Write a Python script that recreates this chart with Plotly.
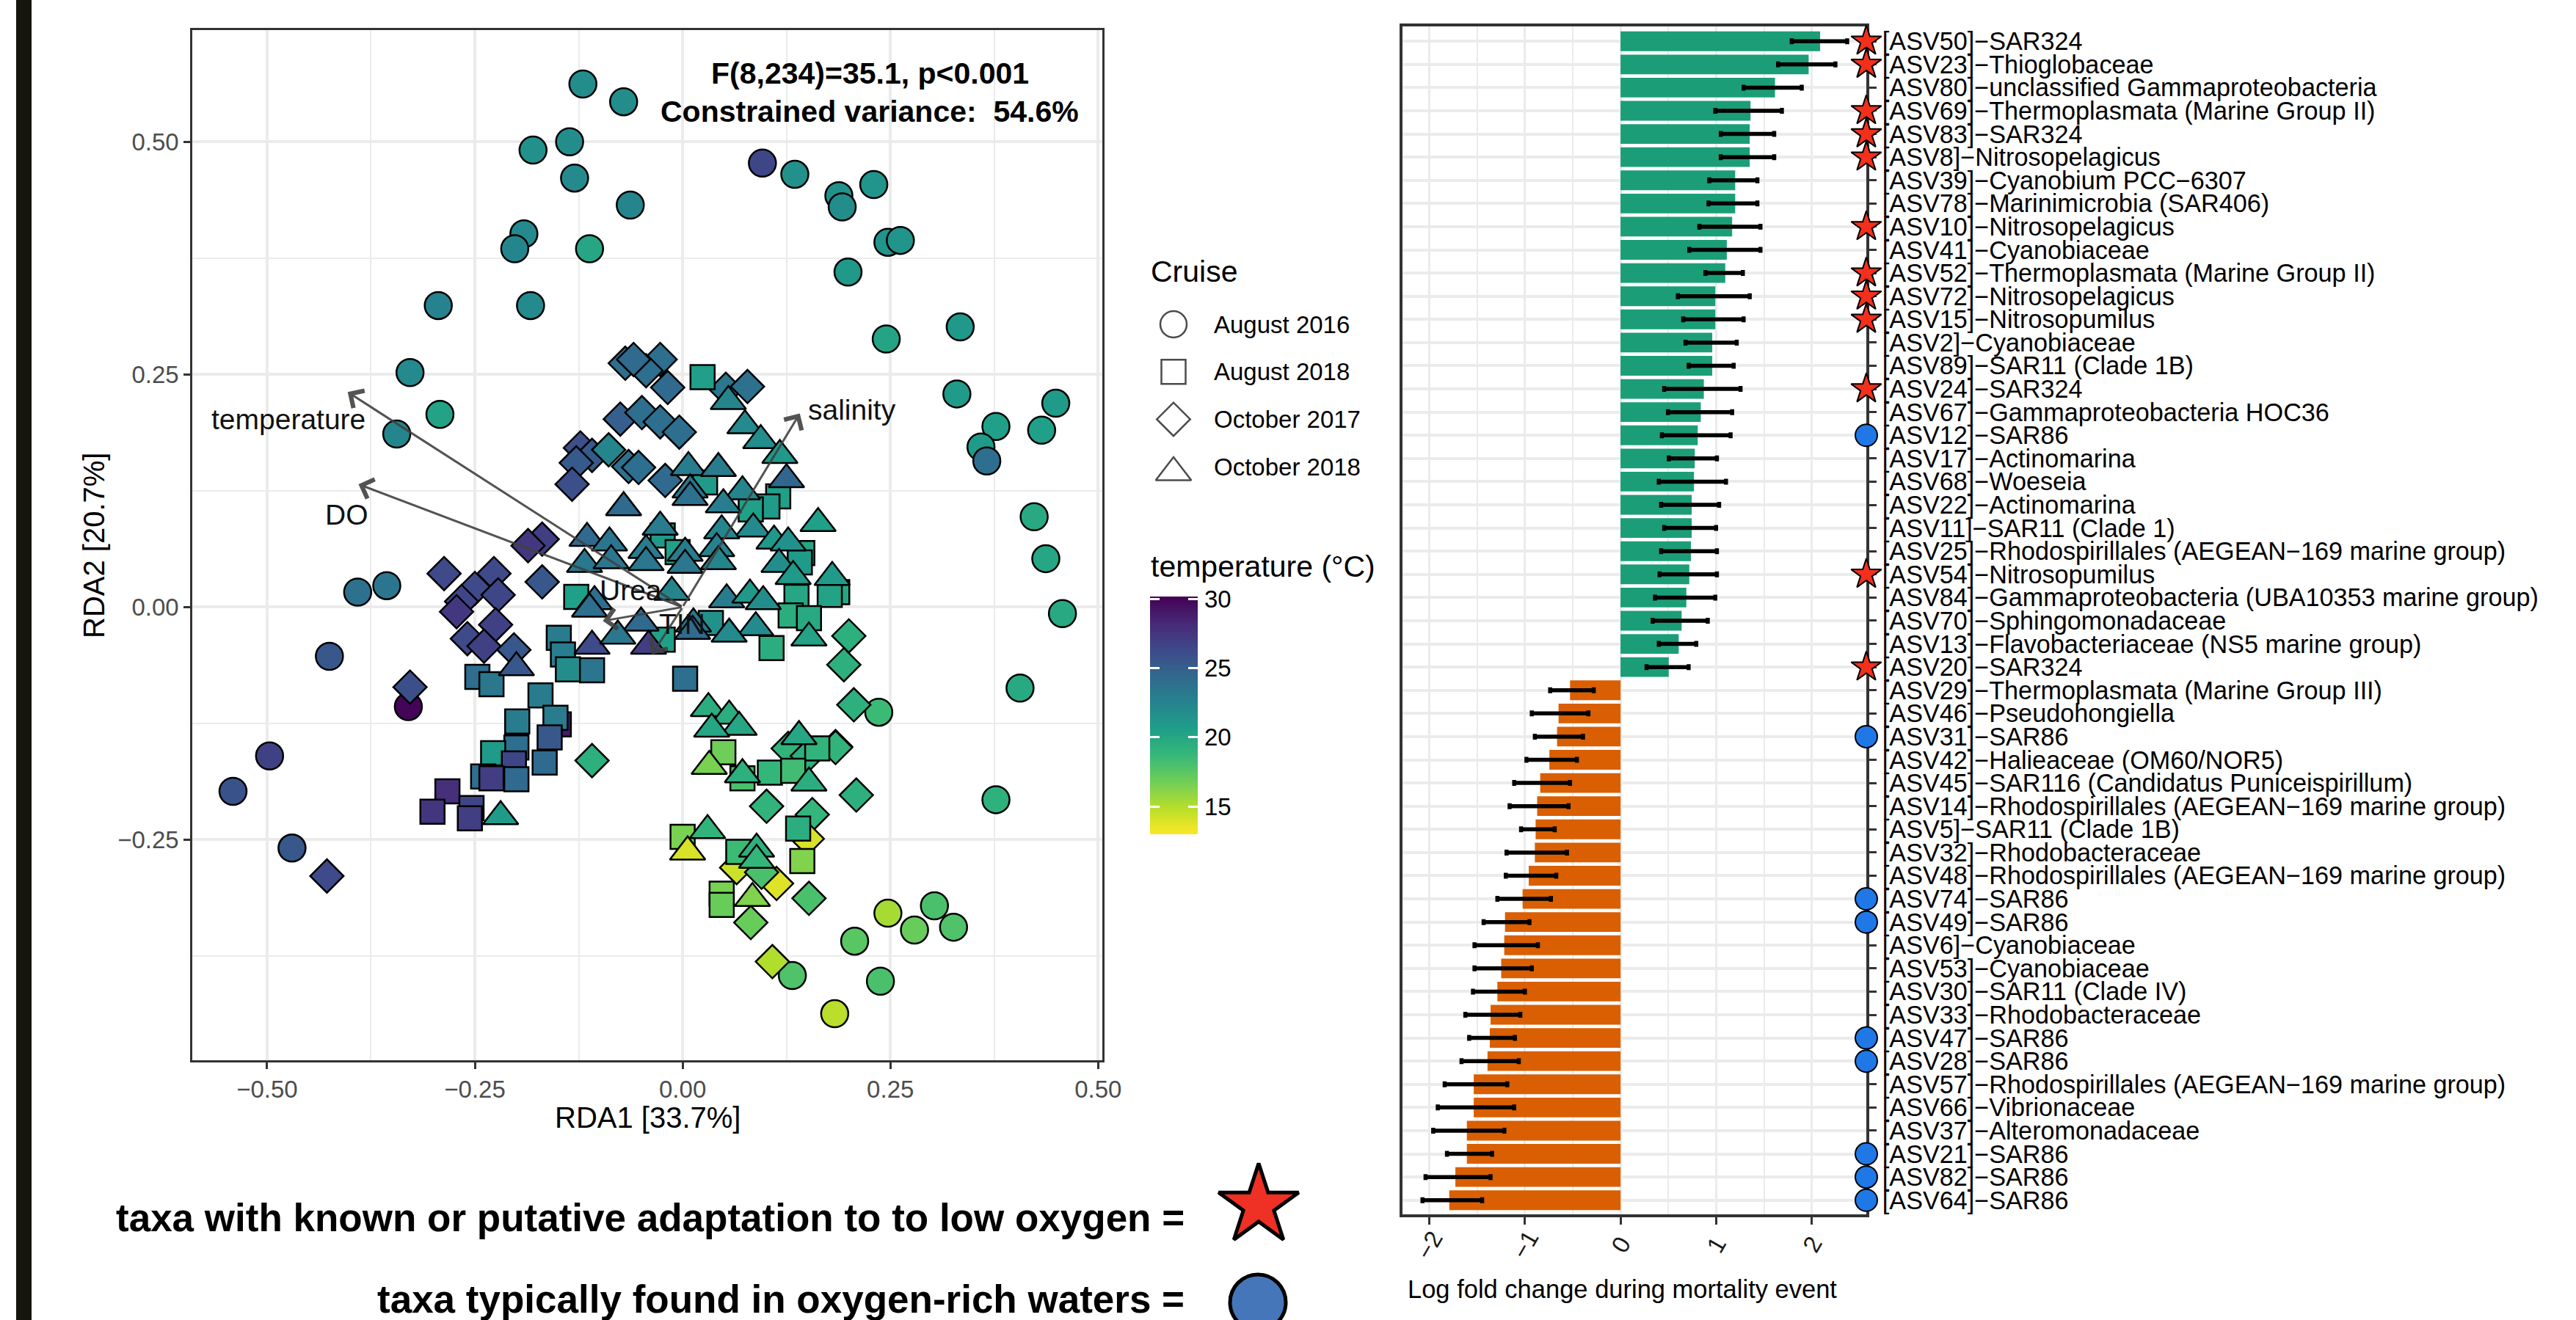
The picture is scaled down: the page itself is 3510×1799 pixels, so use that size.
import plotly.graph_objects as go

W, H = 3510, 1799
FONT = "Liberation Sans, Arial, Helvetica, sans-serif"

# ---------------- RDA scores (left panel) ----------------
cruise_names = ["August 2016", "August 2018", "October 2017", "October 2018"]
cruise_symbols = ["circle", "square", "diamond", "triangle-up"]
cruise_sizes = [37, 33, 35, 42]

aug16_rda1 = [-0.120, -0.071, -0.136, -0.180, -0.130, -0.063, 0.096, 0.135, 0.188, 0.192, 0.230, 0.247, 0.262, 0.199, -0.191, -0.202, -0.112, -0.294, -0.183, 0.245, 0.334, -0.328, -0.292, -0.344, 0.330, 0.449, 0.377, 0.432, 0.359, 0.366, 0.423, 0.437, 0.457, -0.391, -0.356, -0.425, -0.330, -0.497, -0.541, -0.470, 0.406, 0.236, 0.377, 0.247, 0.303, 0.279, 0.326, 0.207, 0.132, 0.238, 0.183]
aug16_rda2 = [0.562, 0.543, 0.500, 0.491, 0.461, 0.432, 0.477, 0.465, 0.442, 0.430, 0.454, 0.392, 0.394, 0.360, 0.401, 0.385, 0.385, 0.324, 0.324, 0.288, 0.301, 0.252, 0.207, 0.186, 0.229, 0.219, 0.194, 0.190, 0.172, 0.157, 0.097, 0.052, -0.007, 0.016, 0.023, -0.053, -0.107, -0.160, -0.198, -0.259, -0.087, -0.113, -0.207, -0.329, -0.321, -0.347, -0.344, -0.359, -0.396, -0.402, -0.437]
aug16_temp = [21.8, 21.8, 21.8, 21.5, 22.0, 22.3, 26.5, 21.5, 21.5, 21.8, 21.3, 21.3, 21.3, 21.0, 22.0, 22.3, 20.0, 22.5, 22.0, 20.2, 21.0, 22.0, 20.3, 22.3, 20.8, 20.8, 20.5, 20.5, 20.8, 24.0, 19.8, 20.0, 19.8, 23.8, 23.5, 25.5, 30.0, 26.8, 25.8, 25.5, 19.8, 18.5, 19.2, 15.3, 18.0, 17.0, 17.8, 17.5, 17.8, 18.0, 14.8]

aug18_rda1 = [0.024, 0.115, 0.102, 0.027, 0.082, -0.024, 0.144, -0.006, 0.141, 0.186, 0.177, 0.137, 0.130, 0.152, 0.034, 0.107, -0.024, 0.003, -0.128, -0.149, -0.144, -0.138, -0.109, -0.247, -0.230, -0.171, -0.199, -0.149, -0.153, -0.160, -0.200, -0.166, -0.228, -0.203, -0.240, -0.230, -0.200, -0.283, -0.301, -0.254, -0.256, 0.049, 0.072, 0.105, 0.162, 0.133, 0.000, 0.047, 0.047, 0.067, 0.144, 0.139]
aug18_rda2 = [0.247, 0.119, 0.108, 0.134, 0.105, 0.077, 0.058, 0.059, 0.048, 0.016, 0.013, 0.011, -0.009, -0.012, -0.017, -0.044, -0.035, -0.077, 0.011, -0.033, -0.051, -0.067, -0.068, -0.075, -0.083, -0.095, -0.123, -0.126, -0.119, -0.140, -0.151, -0.167, -0.157, -0.168, -0.182, -0.184, -0.185, -0.198, -0.220, -0.216, -0.227, -0.156, -0.184, -0.178, -0.152, -0.176, -0.247, -0.308, -0.320, -0.263, -0.273, -0.238]
aug18_temp = [20.5, 20.5, 20.8, 20.8, 20.5, 21.0, 20.0, 20.5, 20.8, 20.0, 20.3, 20.0, 19.5, 19.8, 21.5, 19.5, 20.5, 24.0, 20.5, 23.0, 22.8, 21.8, 23.5, 24.0, 23.3, 23.0, 23.0, 29.0, 23.0, 25.5, 24.0, 24.3, 20.8, 26.5, 24.0, 27.0, 24.3, 27.8, 27.5, 26.5, 27.0, 16.8, 18.0, 18.8, 19.0, 18.3, 16.5, 16.5, 17.0, 18.5, 16.3, 19.5]

oct17_rda1 = [-0.069, -0.027, -0.044, -0.059, -0.018, 0.052, 0.078, -0.075, -0.049, -0.027, -0.004, -0.123, -0.109, -0.089, -0.128, -0.133, -0.065, -0.053, -0.021, -0.169, -0.186, -0.287, -0.227, -0.250, -0.222, -0.266, -0.272, -0.169, -0.225, -0.259, -0.239, -0.203, -0.328, -0.428, -0.109, 0.200, 0.194, 0.206, 0.184, 0.209, 0.101, 0.156, 0.150, 0.065, 0.113, 0.152, 0.082, 0.108, 0.095, 0.127, 0.150, 0.184]
oct17_rda2 = [0.262, 0.266, 0.254, 0.266, 0.236, 0.234, 0.237, 0.202, 0.209, 0.199, 0.188, 0.171, 0.163, 0.169, 0.155, 0.132, 0.151, 0.150, 0.136, 0.073, 0.066, 0.036, 0.036, 0.020, 0.013, 0.006, -0.005, 0.027, -0.019, -0.034, -0.042, -0.046, -0.086, -0.289, -0.165, -0.031, -0.062, -0.105, -0.150, -0.202, -0.214, -0.223, -0.249, -0.280, -0.297, -0.313, -0.339, -0.381, -0.285, -0.152, -0.160, -0.151]
oct17_temp = [24.0, 24.0, 24.0, 24.3, 24.3, 23.3, 23.8, 25.0, 24.0, 24.0, 24.0, 26.0, 25.3, 22.3, 25.3, 26.0, 23.8, 24.0, 24.3, 27.0, 27.3, 26.3, 26.3, 26.3, 26.5, 26.5, 27.3, 25.5, 26.8, 26.3, 26.8, 25.5, 26.0, 26.3, 19.3, 19.3, 19.3, 19.3, 19.0, 19.3, 19.0, 18.8, 14.0, 14.3, 13.8, 18.0, 17.0, 15.0, 18.0, 19.0, 19.3, 19.0]

oct18_rda1 = [0.055, 0.075, 0.094, 0.117, 0.125, -0.071, -0.115, -0.088, 0.007, 0.043, 0.009, 0.009, 0.072, 0.049, 0.163, -0.027, 0.085, 0.047, 0.110, 0.127, -0.044, 0.003, 0.041, -0.044, 0.003, 0.043, 0.116, 0.133, 0.180, -0.013, 0.053, 0.081, 0.097, -0.050, 0.013, 0.012, 0.088, 0.056, 0.152, -0.041, -0.118, -0.086, -0.106, -0.112, -0.109, -0.078, -0.200, -0.219, 0.031, 0.056, 0.068, 0.035, 0.032, 0.072, 0.140, 0.152, 0.030, 0.006, 0.089, 0.084, 0.089]
oct18_rda2 = [0.221, 0.195, 0.179, 0.163, 0.137, 0.107, 0.074, 0.069, 0.150, 0.149, 0.126, 0.118, 0.124, 0.110, 0.090, 0.086, 0.084, 0.082, 0.071, 0.069, 0.061, 0.058, 0.063, 0.048, 0.045, 0.049, 0.046, 0.033, 0.032, 0.016, 0.008, 0.013, 0.006, -0.017, -0.018, -0.026, -0.022, -0.029, -0.033, -0.042, 0.046, 0.050, 0.006, -0.002, -0.042, -0.031, -0.065, -0.225, -0.109, -0.117, -0.129, -0.131, -0.171, -0.180, -0.139, -0.189, -0.240, -0.263, -0.260, -0.313, -0.272]
oct18_temp = [22.3, 22.0, 21.8, 21.0, 24.5, 24.3, 24.3, 23.5, 23.0, 23.0, 23.3, 23.8, 22.3, 22.8, 20.5, 23.0, 22.0, 22.3, 21.0, 21.5, 23.0, 23.0, 22.5, 23.3, 23.3, 22.3, 21.8, 21.0, 20.8, 22.3, 23.0, 21.0, 21.8, 24.3, 23.3, 24.3, 22.0, 22.0, 20.3, 27.0, 23.3, 23.5, 24.0, 24.0, 26.3, 23.3, 25.5, 20.8, 19.5, 19.5, 20.0, 20.0, 16.5, 19.3, 20.0, 19.5, 19.0, 14.0, 19.3, 16.3, 18.8]

# biplot arrows (environmental constraints)
env_names = ["temperature", "DO", "salinity", "Urea", "TIN"]
env_rda1 = [-0.403, -0.390, 0.141, -0.096, -0.037]
env_rda2 = [0.231, 0.132, 0.208, -0.015, -0.051]
env_lab_rda1 = [-0.474, -0.404, 0.204, -0.062, -0.001]
env_lab_rda2 = [0.202, 0.099, 0.212, 0.018, -0.018]

stat_lines = ["F(8,234)=35.1, p&lt;0.001", "Constrained variance:  54.6%"]

temp_min, temp_max = 12.99, 30.16
temp_ticks = [15, 20, 25, 30]

# ---------------- Log fold change (right panel) ----------------
asv_labels = [
    "[ASV50]\u2212SAR324", "[ASV23]\u2212Thioglobaceae", "[ASV80]\u2212unclassified Gammaproteobacteria",
    "[ASV69]\u2212Thermoplasmata (Marine Group II)", "[ASV83]\u2212SAR324", "[ASV8]\u2212Nitrosopelagicus",
    "[ASV39]\u2212Cyanobium PCC\u22126307", "[ASV78]\u2212Marinimicrobia (SAR406)", "[ASV10]\u2212Nitrosopelagicus",
    "[ASV41]\u2212Cyanobiaceae", "[ASV52]\u2212Thermoplasmata (Marine Group II)", "[ASV72]\u2212Nitrosopelagicus",
    "[ASV15]\u2212Nitrosopumilus", "[ASV2]\u2212Cyanobiaceae", "[ASV89]\u2212SAR11 (Clade 1B)",
    "[ASV24]\u2212SAR324", "[ASV67]\u2212Gammaproteobacteria HOC36", "[ASV12]\u2212SAR86",
    "[ASV17]\u2212Actinomarina", "[ASV68]\u2212Woeseia", "[ASV22]\u2212Actinomarina",
    "[ASV11]\u2212SAR11 (Clade 1)", "[ASV25]\u2212Rhodospirillales (AEGEAN\u2212169 marine group)", "[ASV54]\u2212Nitrosopumilus",
    "[ASV84]\u2212Gammaproteobacteria (UBA10353 marine group)", "[ASV70]\u2212Sphingomonadaceae",
    "[ASV13]\u2212Flavobacteriaceae (NS5 marine group)", "[ASV20]\u2212SAR324",
    "[ASV29]\u2212Thermoplasmata (Marine Group III)", "[ASV46]\u2212Pseudohongiella", "[ASV31]\u2212SAR86",
    "[ASV42]\u2212Halieaceae (OM60/NOR5)", "[ASV45]\u2212SAR116 (Candidatus Puniceispirillum)",
    "[ASV14]\u2212Rhodospirillales (AEGEAN\u2212169 marine group)", "[ASV5]\u2212SAR11 (Clade 1B)",
    "[ASV32]\u2212Rhodobacteraceae", "[ASV48]\u2212Rhodospirillales (AEGEAN\u2212169 marine group)",
    "[ASV74]\u2212SAR86", "[ASV49]\u2212SAR86", "[ASV6]\u2212Cyanobiaceae", "[ASV53]\u2212Cyanobiaceae",
    "[ASV30]\u2212SAR11 (Clade IV)", "[ASV33]\u2212Rhodobacteraceae", "[ASV47]\u2212SAR86", "[ASV28]\u2212SAR86",
    "[ASV57]\u2212Rhodospirillales (AEGEAN\u2212169 marine group)", "[ASV66]\u2212Vibrionaceae",
    "[ASV37]\u2212Alteromonadaceae", "[ASV21]\u2212SAR86", "[ASV82]\u2212SAR86", "[ASV64]\u2212SAR86",
]
lfc = [2.087, 1.967, 1.615, 1.359, 1.351, 1.351, 1.199, 1.199, 1.167, 1.111, 1.095, 0.991, 0.991, 0.959, 0.959, 0.871, 0.839, 0.807, 0.776, 0.768, 0.744, 0.744, 0.736, 0.719, 0.688, 0.639, 0.608, 0.504,
       -0.528, -0.648, -0.664, -0.744, -0.84, -0.872, -0.888, -0.896, -0.96, -1.024, -1.208, -1.216, -1.248, -1.288, -1.359, -1.367, -1.391, -1.535, -1.535, -1.607, -1.607, -1.727, -1.791]
lfc_lo = [1.79, 1.647, 1.287, 0.991, 1.048, 1.048, 0.928, 0.92, 0.824, 0.719, 0.888, 0.599, 0.655, 0.679, 0.712, 0.456, 0.496, 0.432, 0.504, 0.40, 0.424, 0.456, 0.424, 0.408, 0.36, 0.336, 0.40, 0.272,
          -0.736, -0.928, -0.896, -0.984, -1.112, -1.16, -1.04, -1.192, -1.2, -1.288, -1.432, -1.527, -1.527, -1.543, -1.623, -1.583, -1.663, -1.839, -1.911, -1.959, -1.815, -2.039, -2.071]
lfc_hi = [2.37, 2.247, 1.895, 1.687, 1.607, 1.607, 1.431, 1.431, 1.463, 1.463, 1.279, 1.351, 1.287, 1.215, 1.183, 1.255, 1.167, 1.151, 1.008, 1.103, 1.031, 0.999, 1.008, 1.008, 0.991, 0.912, 0.792, 0.712,
          -0.28, -0.336, -0.392, -0.456, -0.528, -0.544, -0.688, -0.56, -0.672, -0.728, -0.952, -0.864, -0.928, -1.0, -1.048, -1.104, -1.064, -1.184, -1.112, -1.215, -1.343, -1.359, -1.447]
# oxygen group: "low" = known/putative low-oxygen adaptation, "rich" = oxygen-rich waters
oxygen_group = ["low", "low", "", "low", "low", "low", "", "", "low", "", "low", "low", "low", "", "", "low", "", "rich",
                "", "", "", "", "", "low", "", "", "", "low",
                "", "", "rich", "", "", "", "", "", "", "rich", "rich", "", "", "", "", "rich", "rich", "", "", "", "rich", "rich", "rich"]
lfc_ticks = [-2, -1, 0, 1, 2]

key_texts = ["taxa with known or putative adaptation to to low oxygen =",
             "taxa typically found in oxygen-rich waters ="]

# ---------------- layout geometry ----------------
def px(x):
    return x / W

def py(y):
    return 1 - y / H

L_X = [px(262), px(1502)]
L_Y = [py(1445), py(41)]
R_X = [px(1911), px(2543)]
R_Y = [py(1655), py(36)]
R_XMAX = 2.57

GREEN, ORANGE = "#1B9E77", "#D95F02"

fig = go.Figure()

rda_sets = [(aug16_rda1, aug16_rda2, aug16_temp), (aug18_rda1, aug18_rda2, aug18_temp),
            (oct17_rda1, oct17_rda2, oct17_temp), (oct18_rda1, oct18_rda2, oct18_temp)]
draw_order = [0, 2, 1, 3]
for k in draw_order:
    xs, ys, ts = rda_sets[k]
    fig.add_trace(go.Scatter(
        x=xs, y=ys, mode="markers", name=cruise_names[k], showlegend=False,
        xaxis="x", yaxis="y",
        marker=dict(symbol=cruise_symbols[k], size=cruise_sizes[k], color=ts, coloraxis="coloraxis",
                    line=dict(color="black", width=2.5), opacity=1),
    ))

# colour bar drawn as a heatmap strip sharing the colour axis
n_cb = 240
cb_vals = [temp_min + (temp_max - temp_min) * i / (n_cb - 1) for i in range(n_cb)]
fig.add_trace(go.Heatmap(z=[[v] for v in cb_vals], x=[0], y=cb_vals, coloraxis="coloraxis",
                         xaxis="x4", yaxis="y4", showscale=False, hoverinfo="skip"))

# bars
bar_colors = [GREEN if v > 0 else ORANGE for v in lfc]
rows = list(range(len(asv_labels)))
fig.add_trace(go.Bar(
    x=lfc, y=rows, orientation="h", xaxis="x2", yaxis="y2", width=0.85,
    marker=dict(color=bar_colors, line=dict(width=0)), showlegend=False,
    error_x=dict(type="data", symmetric=False,
                 array=[h - v for h, v in zip(lfc_hi, lfc)],
                 arrayminus=[v - l for v, l in zip(lfc, lfc_lo)],
                 color="black", thickness=5.5, width=4),
))
low_rows = [i for i, g in enumerate(oxygen_group) if g == "low"]
rich_rows = [i for i, g in enumerate(oxygen_group) if g == "rich"]
fig.add_trace(go.Scatter(
    x=[R_XMAX] * len(rich_rows), y=rich_rows, mode="markers", xaxis="x2", yaxis="y2", cliponaxis=False,
    marker=dict(symbol="circle", size=30, color="#1F78E6", line=dict(color="black", width=2)), showlegend=False))
fig.add_trace(go.Scatter(
    x=[R_XMAX] * len(low_rows), y=low_rows, mode="markers", xaxis="x2", yaxis="y2", cliponaxis=False,
    marker=dict(symbol="star", size=31, color="#F2301B", line=dict(color="black", width=2)), showlegend=False))

# overlay (pixel) axis for legend keys
leg_sym_x = 1599
leg_y0, leg_dy = 442, 64.7
tri_shift = [0, 0, 0, 8]
fig.add_trace(go.Scatter(
    x=[leg_sym_x] * 4, y=[leg_y0 + i * leg_dy + tri_shift[i] for i in range(4)], mode="markers",
    xaxis="x3", yaxis="y3", cliponaxis=False, showlegend=False,
    marker=dict(symbol=cruise_symbols, size=[36, 33, 35, 42], color="white", line=dict(color="black", width=2.5))))
fig.add_trace(go.Scatter(
    x=[1715], y=[1643], mode="markers", xaxis="x3", yaxis="y3", cliponaxis=False, showlegend=False,
    marker=dict(symbol="star", size=82, color="#EE3124", line=dict(color="black", width=5))))
fig.add_trace(go.Scatter(
    x=[1714], y=[1775], mode="markers", xaxis="x3", yaxis="y3", cliponaxis=False, showlegend=False,
    marker=dict(symbol="circle", size=76, color="#4676BA", line=dict(color="black", width=5))))

ann = []

def paper_text(x, y, text, size, xanchor="center", yanchor="middle", bold=False, angle=0, color="black"):
    ann.append(dict(x=px(x), y=py(y), xref="paper", yref="paper",
                    text=("<b>%s</b>" % text) if bold else text, showarrow=False,
                    xanchor=xanchor, yanchor=yanchor, textangle=angle,
                    font=dict(size=size, color=color, family=FONT)))

# arrows
for n, x, y, lx, ly in zip(env_names, env_rda1, env_rda2, env_lab_rda1, env_lab_rda2):
    ann.append(dict(x=x, y=y, ax=0, ay=0, xref="x", yref="y", axref="x", ayref="y", text="",
                    showarrow=True, arrowhead=4, arrowsize=1.8, arrowwidth=3,
                    arrowcolor="rgba(65,65,65,0.9)"))
    ann.append(dict(x=lx, y=ly, xref="x", yref="y", text=n, showarrow=False,
                    xanchor="center", yanchor="middle",
                    font=dict(size=39, color="#111111", family=FONT)))
# stats text
paper_text(1185, 100, stat_lines[0], 41, bold=True)
paper_text(1185, 152, stat_lines[1], 41, bold=True)
# axis titles left panel
paper_text(882, 1523, "RDA1 [33.7%]", 40)
paper_text(128, 743, "RDA2 [20.7%]", 40, angle=-90)
# legend
paper_text(1566, 370, "Cruise", 41, xanchor="left")
for i, nme in enumerate(cruise_names):
    paper_text(1652, leg_y0 + i * leg_dy, nme, 33, xanchor="left")
paper_text(1566, 772, "temperature (°C)", 41, xanchor="left")
# right panel x tick labels and title
for t in lfc_ticks:
    lab = ("\u2212%d" % abs(t)) if t < 0 else "%d" % t
    ann.append(dict(x=t, y=py(1696), xref="x2", yref="paper", text=lab, showarrow=False, textangle=-60,
                    xanchor="center", yanchor="middle",
                    font=dict(size=33, color="#1a1a1a", family=FONT)))
paper_text(2210, 1757, "Log fold change during mortality event", 34.5)
# key texts
paper_text(1616, 1659, key_texts[0], 53, xanchor="right", bold=True)
paper_text(1616, 1770, key_texts[1], 53, xanchor="right", bold=True)

GRID = "#EBEBEB"
fig.update_layout(
    width=W, height=H, margin=dict(l=0, r=0, t=0, b=0, pad=0, autoexpand=False), autosize=False,
    paper_bgcolor="white", plot_bgcolor="rgba(0,0,0,0)",
    font=dict(family=FONT, color="black"),
    showlegend=False,
    annotations=ann,
    coloraxis=dict(colorscale="Viridis", reversescale=True, cmin=temp_min, cmax=temp_max, showscale=False),
    xaxis=dict(domain=L_X, anchor="y", range=[-0.59, 0.505], zeroline=False, automargin=False,
               tickvals=[-0.5, -0.25, 0, 0.25, 0.5], ticktext=["\u22120.50", "\u22120.25", "0.00", "0.25", "0.50"],
               ticks="outside", ticklen=9, tickwidth=2.5, tickcolor="#333333",
               tickfont=dict(size=33, color="#4D4D4D"),
               showgrid=True, gridcolor=GRID, gridwidth=3.5,
               minor=dict(tickvals=[-0.375, -0.125, 0.125, 0.375], showgrid=True, gridcolor=GRID, gridwidth=1.8, ticks=""),
               showline=True, mirror=True, linecolor="#333333", linewidth=2.5),
    yaxis=dict(domain=L_Y, anchor="x", range=[-0.487, 0.62], zeroline=False, automargin=False,
               tickvals=[-0.25, 0, 0.25, 0.5], ticktext=["\u22120.25", "0.00", "0.25", "0.50"],
               ticks="outside", ticklen=9, tickwidth=2.5, tickcolor="#333333",
               tickfont=dict(size=33, color="#4D4D4D"),
               showgrid=True, gridcolor=GRID, gridwidth=3.5,
               minor=dict(tickvals=[-0.375, -0.125, 0.125, 0.375], showgrid=True, gridcolor=GRID, gridwidth=1.8, ticks=""),
               showline=True, mirror=True, linecolor="#333333", linewidth=2.5),
    xaxis2=dict(domain=R_X, anchor="y2", range=[-2.28, R_XMAX], zeroline=False, automargin=False,
                tickvals=lfc_ticks, showticklabels=False, layer="below traces",
                ticks="outside", ticklen=10, tickwidth=3, tickcolor="#333333",
                showgrid=True, gridcolor=GRID, gridwidth=3,
                minor=dict(tickvals=[-1.5, -0.5, 0.5, 1.5], showgrid=True, gridcolor=GRID, gridwidth=2, ticks=""),
                showline=True, mirror=True, linecolor="#333333", linewidth=4),
    yaxis2=dict(domain=R_Y, anchor="x2", side="right", range=[len(rows) - 0.39, -0.64], zeroline=False,
                automargin=False, layer="below traces",
                tickvals=rows, ticktext=asv_labels, ticks="outside", ticklen=10, tickwidth=3, tickcolor="#333333",
                tickfont=dict(size=34.2, color="black"), ticklabelstandoff=1,
                showgrid=True, gridcolor=GRID, gridwidth=4,
                showline=True, mirror=True, linecolor="#333333", linewidth=4),
    xaxis3=dict(domain=[0, 1], anchor="y3", range=[0, W], visible=False, fixedrange=True, automargin=False),
    yaxis3=dict(domain=[0, 1], anchor="x3", range=[H, 0], visible=False, fixedrange=True, automargin=False),
    xaxis4=dict(domain=[px(1567), px(1632)], anchor="y4", range=[-0.5, 0.5], visible=False, fixedrange=True,
                automargin=False),
    yaxis4=dict(domain=[py(1137), py(813)], anchor="x4", side="right", range=[temp_min, temp_max],
                tickvals=temp_ticks, ticks="inside", ticklen=13, tickwidth=2.5, tickcolor="white",
                mirror="ticks", showline=False, showgrid=False, zeroline=False, automargin=False,
                tickfont=dict(size=33, color="black"), ticklabelstandoff=8, fixedrange=True),
    shapes=[dict(type="rect", xref="paper", yref="paper", x0=px(22), x1=px(43), y0=0, y1=1,
                 fillcolor="#15150B", line=dict(width=0), layer="above")],
)

post = ("document.documentElement.style.overflow='hidden';"
        "document.body.style.margin='0';document.body.style.overflow='hidden';")
fig.write_html("out.html", config={"responsive": False}, post_script=post)
